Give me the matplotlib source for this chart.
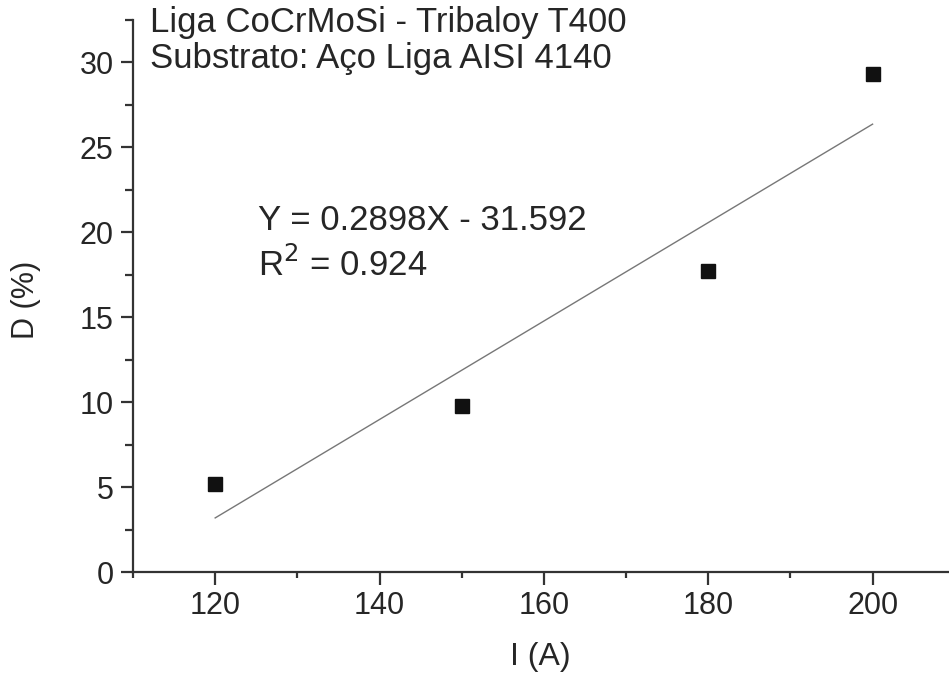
import matplotlib
matplotlib.use('Agg')
import matplotlib.pyplot as plt
import numpy as np
from matplotlib.ticker import MultipleLocator

# measured points: current I (A) vs dilution D (%)
current = [120, 150, 180, 200]
dilution = [5.2, 9.8, 17.7, 29.3]

# linear fit as printed on the chart
slope = 0.2898
intercept = -31.592
r_squared = 0.924

plt.rcParams['font.family'] = ['Liberation Sans', 'DejaVu Sans']
text_color = '#262626'

fig = plt.figure(figsize=(9.49, 6.75), dpi=100)
ax = fig.add_axes([133 / 949, 1 - 572 / 675, 1 - 133 / 949, 552 / 675])

# fitted line across the measured range
x_fit = np.array([min(current), max(current)])
ax.plot(x_fit, slope * x_fit + intercept, color='#777777', lw=1.0)
ax.plot(current, dilution, 's', color='#111111', ms=10, clip_on=False)

ax.set_xlim(110, 209.3)
ax.set_ylim(0, 32.5)
ax.xaxis.set_major_locator(MultipleLocator(20))
ax.xaxis.set_minor_locator(MultipleLocator(10))
ax.yaxis.set_major_locator(MultipleLocator(5))
ax.yaxis.set_minor_locator(MultipleLocator(2.5))

for side in ['top', 'right']:
    ax.spines[side].set_visible(False)
for side in ['left', 'bottom']:
    ax.spines[side].set_linewidth(1.6)
    ax.spines[side].set_color('#333333')

ax.tick_params(which='major', direction='out', length=9, width=1.6, color='#333333',
               labelsize=22, labelcolor=text_color, pad=5)
ax.tick_params(axis='y', which='minor', direction='out', length=6, width=1.6, color='#333333')
ax.tick_params(axis='x', which='minor', direction='out', length=4, width=1.6, color='#333333')

ax.set_xlabel('I (A)', fontsize=23, color=text_color)
ax.set_ylabel('D (%)', fontsize=22, color=text_color)
ax.xaxis.set_label_coords((540 - 133) / (949 - 133), -(657 - 572) / 552)
ax.yaxis.set_label_coords(-(133 - 26) / (949 - 133), (572 - 300) / 552)
ax.xaxis.label.set_va('center')
ax.yaxis.label.set_va('center')

ax.text(150, 675 - 6, 'Liga CoCrMoSi - Tribaloy T400', transform=None,
        fontsize=25, color=text_color, va='top')
ax.text(150, 675 - 42, 'Substrato: Aço Liga AISI 4140', transform=None,
        fontsize=25, color=text_color, va='top')

ax.text(258, 675 - 221, 'Y = %.4fX - %.3f' % (slope, -intercept), transform=None,
        fontsize=25, color=text_color, va='center')
ax.text(258, 675 - 265, r'R$^2$ = %.3f' % r_squared, transform=None,
        fontsize=25, color=text_color, va='center')

fig.savefig('out.png', dpi=100)
